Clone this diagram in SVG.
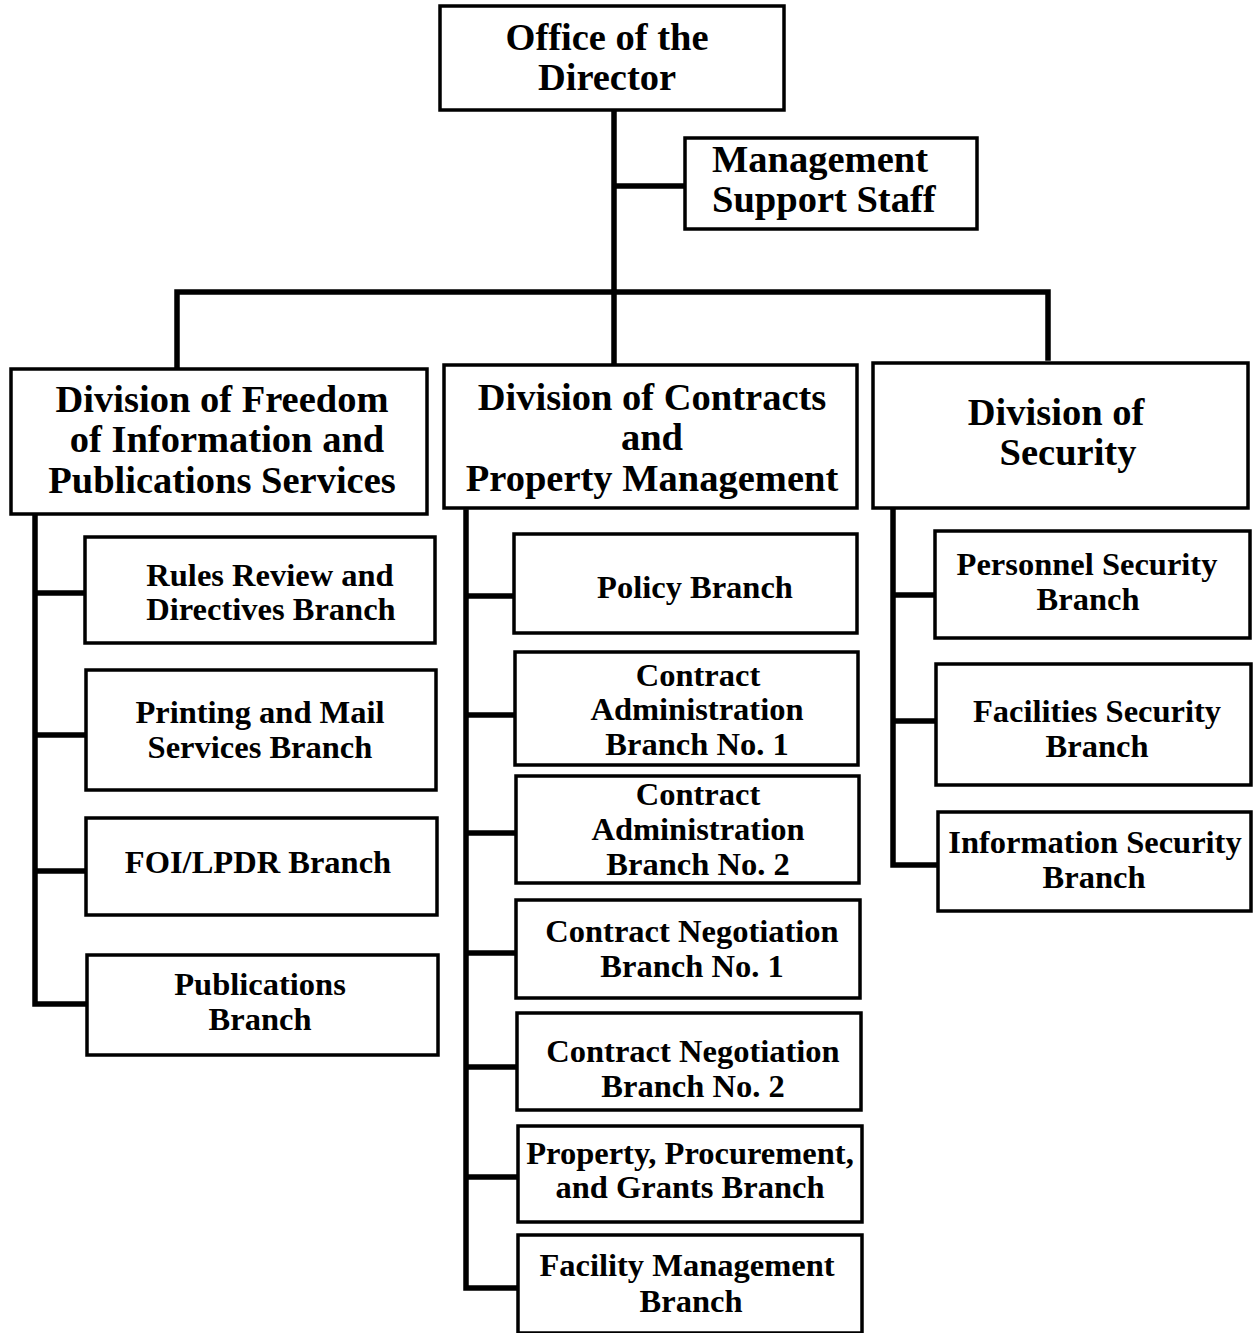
<svg xmlns="http://www.w3.org/2000/svg" width="1255" height="1333" viewBox="0 0 1255 1333">
<style>
.box{fill:#fff;stroke:#000;stroke-width:3.5}
.h{font-family:"Liberation Serif","Times New Roman",serif;font-weight:bold;font-size:38.5px;fill:#000;text-anchor:middle}
.b{font-family:"Liberation Serif","Times New Roman",serif;font-weight:bold;font-size:32.5px;fill:#000;text-anchor:middle}
.c{fill:none;stroke:#000;stroke-width:5.5;stroke-linecap:square}
</style>
<rect width="1255" height="1333" fill="#fff"/>
<g id="connectors">
<path class="c" d="M614 110V365M614 186H685M177 368V292H1048V358"/>
<path class="c" d="M35 514V1004M35 593H85M35 735H86M35 871H86M35 1004H87"/>
<path class="c" d="M466 512V1288M466 596H514M466 715H515M466 833H516M466 953H516M466 1067H517M466 1177H518M466 1288H518"/>
<path class="c" d="M893 508V865M893 595H935M893 721H936M893 865H938"/>
</g>
<g id="office">
<rect class="box" x="440" y="6" width="344" height="104"/>
<text class="h" x="607" y="50">Office of the</text>
<text class="h" x="607" y="90">Director</text>
</g>
<g id="mss">
<rect class="box" x="685" y="138" width="292" height="91"/>
<text class="h" x="712" y="172" style="text-anchor:start">Management</text>
<text class="h" x="712" y="212" style="text-anchor:start">Support Staff</text>
</g>
<g id="div-foi">
<rect class="box" x="11" y="369" width="416" height="145"/>
<text class="h" x="222" y="412">Division of Freedom</text>
<text class="h" x="227" y="452">of Information and</text>
<text class="h" x="222" y="493">Publications Services</text>
</g>
<g id="div-contracts">
<rect class="box" x="444" y="365" width="413" height="143"/>
<text class="h" x="652" y="410">Division of Contracts</text>
<text class="h" x="652" y="450">and</text>
<text class="h" x="652" y="491">Property Management</text>
</g>
<g id="div-security">
<rect class="box" x="873" y="363" width="375" height="145"/>
<text class="h" x="1056" y="425">Division of</text>
<text class="h" x="1068" y="465">Security</text>
</g>
<g id="rules">
<rect class="box" x="85" y="537" width="350" height="106"/>
<text class="b" x="270" y="586">Rules Review and</text>
<text class="b" x="271" y="620">Directives Branch</text>
</g>
<g id="printing">
<rect class="box" x="86" y="670" width="350" height="120"/>
<text class="b" x="260" y="723">Printing and Mail</text>
<text class="b" x="260" y="758">Services Branch</text>
</g>
<g id="foilpdr">
<rect class="box" x="86" y="818" width="351" height="97"/>
<text class="b" x="258" y="873">FOI/LPDR Branch</text>
</g>
<g id="publications">
<rect class="box" x="87" y="955" width="351" height="100"/>
<text class="b" x="260" y="995">Publications</text>
<text class="b" x="260" y="1030">Branch</text>
</g>
<g id="policy">
<rect class="box" x="514" y="534" width="343" height="99"/>
<text class="b" x="695" y="598">Policy Branch</text>
</g>
<g id="ca1">
<rect class="box" x="515" y="652" width="343" height="113"/>
<text class="b" x="698" y="686">Contract</text>
<text class="b" x="697" y="720">Administration</text>
<text class="b" x="697" y="755">Branch No. 1</text>
</g>
<g id="ca2">
<rect class="box" x="516" y="776" width="343" height="107"/>
<text class="b" x="698" y="805">Contract</text>
<text class="b" x="698" y="840">Administration</text>
<text class="b" x="698" y="875">Branch No. 2</text>
</g>
<g id="cn1">
<rect class="box" x="516" y="900" width="344" height="98"/>
<text class="b" x="692" y="942">Contract Negotiation</text>
<text class="b" x="692" y="977">Branch No. 1</text>
</g>
<g id="cn2">
<rect class="box" x="517" y="1013" width="344" height="97"/>
<text class="b" x="693" y="1062">Contract Negotiation</text>
<text class="b" x="693" y="1097">Branch No. 2</text>
</g>
<g id="ppg">
<rect class="box" x="518" y="1126" width="344" height="96"/>
<text class="b" x="690" y="1164">Property, Procurement,</text>
<text class="b" x="690" y="1198">and Grants Branch</text>
</g>
<g id="fm">
<rect class="box" x="518" y="1235" width="344" height="98"/>
<text class="b" x="687" y="1276">Facility Management</text>
<text class="b" x="691" y="1312">Branch</text>
</g>
<g id="personnel">
<rect class="box" x="935" y="531" width="315" height="107"/>
<text class="b" x="1087" y="575">Personnel Security</text>
<text class="b" x="1088" y="610">Branch</text>
</g>
<g id="facilities">
<rect class="box" x="936" y="664" width="315" height="121"/>
<text class="b" x="1097" y="722">Facilities Security</text>
<text class="b" x="1097" y="757">Branch</text>
</g>
<g id="information">
<rect class="box" x="938" y="812" width="313" height="99"/>
<text class="b" x="1095" y="853">Information Security</text>
<text class="b" x="1094" y="888">Branch</text>
</g>
</svg>
